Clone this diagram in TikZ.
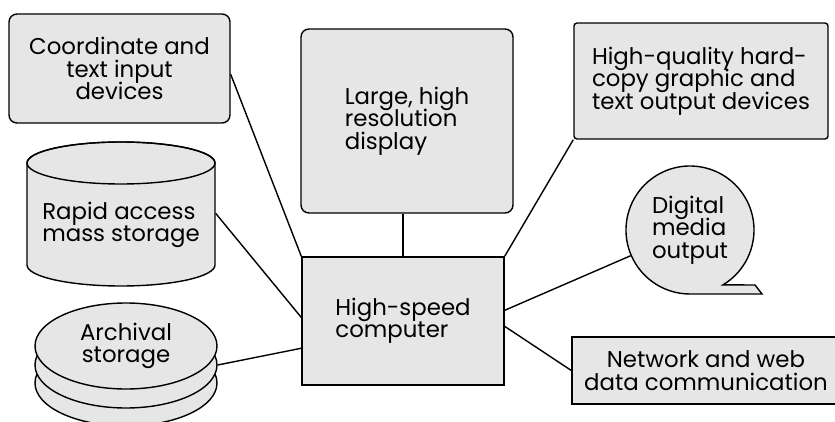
\documentclass[tikz,border=0pt]{standalone}
\usepackage{fontspec}
\setmainfont{Poppins}
\usepackage{tikz}
\usetikzlibrary{shapes.geometric}
\definecolor{boxgray}{RGB}{230,230,230}
\newcommand{\boxfont}{\fontsize{13}{12.8}\selectfont\lineskiplimit=-10pt\relax\lineskip=0pt\relax}

\begin{document}
\begin{tikzpicture}[scale=1,line width=0.8pt]
						\tikzstyle{txt}=[font=\boxfont]
						\tikzstyle{box}=[rectangle,draw=black,fill=boxgray,txt]
						\tikzstyle{disc}=[ellipse,draw=black,fill=boxgray,minimum width=3.64cm,minimum height=1.72cm,inner sep=0pt]
						\useasboundingbox (0,0) rectangle (16.7,8.42);
						\node[box,rounded corners=0.16cm,minimum width=4.42cm,minimum height=2.18cm,align=center](coord) at (2.39,7.05) {Coordinate and\\text input\\devices};
						\node[box,rounded corners=0.16cm,minimum width=4.24cm,minimum height=3.68cm,align=left](display) at (8.14,6.00) {Large, high\\resolution\\display};
						\node[box,minimum width=4.04cm,minimum height=2.56cm,align=left](comp) at (8.06,2.00) {High-speed\\computer};
						\node[box,rounded corners=0.06cm,minimum width=5.08cm,minimum height=2.32cm,align=left](hq) at (14.02,6.80) {High-quality hard-\\copy graphic and\\text output devices};
						\node[box,minimum width=5.36cm,minimum height=1.34cm,align=center](net) at (14.12,1.01) {Network and web\\data communication};
						\filldraw[fill=boxgray] (0.54,5.16) -- (0.54,3.12) arc[start angle=180,end angle=360,x radius=1.88,y radius=0.42] -- (4.30,5.16) arc[start angle=0,end angle=180,x radius=1.88,y radius=0.42] -- cycle;
						\draw (2.42,5.16) ellipse[x radius=1.88,y radius=0.42];
						\node[txt,align=left,minimum width=3.76cm](rapid) at (2.42,3.92) {Rapid access\\mass storage};
						\node[disc](arch3) at (2.52,0.76) {};
						\node[disc](arch2) at (2.52,1.12) {};
						\node[disc,txt,align=center](arch1) at (2.52,1.50) {Archival\\storage};
						\filldraw[fill=boxgray] ([shift={(-59:1.28)}]13.80,3.82) arc[start angle=-59,end angle=270,radius=1.28] -- (15.24,2.54) -- (15.10,2.72) -- cycle;
						\node[circle,txt,align=left,minimum size=2.56cm,inner sep=0pt](digital) at (13.80,3.82) {Digital\\media\\output};
						\draw(coord.-3) -- (comp.north west);
						\draw(rapid.7) -- (comp.178);
						\draw(arch2.east) -- (comp.195);
						\draw(comp.north) -- (comp.north |- display.south);
						\draw(hq.south west) -- (comp.north east);
						\draw(digital) -- (comp.6);
						\draw(net.west) -- (comp.-3);
					\end{tikzpicture}
\end{document}
